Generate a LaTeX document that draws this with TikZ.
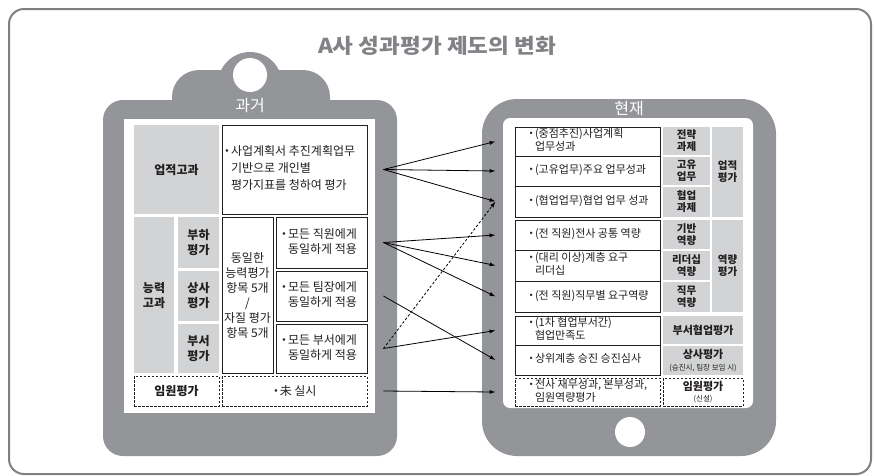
\documentclass[tikz,border=0pt]{standalone}
\usepackage{fontspec}
\setmainfont{Noto Sans CJK KR}
\newfontfamily\titlefont[FakeStretch=1.1]{Noto Sans CJK KR}
\usetikzlibrary{arrows.meta}
\definecolor{devc}{HTML}{939598}
\definecolor{cellg}{HTML}{D1D3D4}
\definecolor{titlec}{HTML}{808285}
\definecolor{framec}{HTML}{808080}
\definecolor{ink}{HTML}{231F20}
\newcommand\cellnode[7]{\node[#6, minimum width={(#4-#2)*1pt}, minimum height={(#5-#3)*1pt}] (#1) at ({(#2+#4)/2},{(#3+#5)/2}) {#7};}
\newcommand\bul{\llap{\textbf{·}\hspace{0.3pt}}}
\newcommand\lt[3]{\makebox[#1][l]{\hspace*{#2}\begin{tabular}{@{}l@{}}#3\end{tabular}}}
\begin{document}
\begin{tikzpicture}[x=1pt,y=-1pt,
  font=\fontsize{12}{15}\selectfont, text=ink,
  gcell/.style={fill=cellg, draw=none, inner sep=0pt, align=center, font=\bfseries\fontsize{12}{15}\selectfont},
  wcell/.style={fill=white, draw=ink, line width=0.9pt, inner sep=0pt, align=center},
  lcell/.style={wcell},
  dcell/.style={draw=ink, dash pattern=on 2.5pt off 1.5pt, line width=0.8pt, inner sep=0pt, align=center},
  rg/.style={gcell, font=\bfseries\fontsize{10.5}{12}\selectfont},
  rl/.style={lcell, font=\fontsize{11}{12.5}\selectfont},
  arr/.style={-{Latex[length=6pt,width=4pt]}, line width=0.8pt, black},
  darr/.style={arr, dash pattern=on 2.5pt off 2pt}]
\useasboundingbox (0,0) rectangle (874,475);
\draw[framec, line width=2pt, rounded corners=15pt] (9,9) rectangle (871,474);
\node[titlec, font=\titlefont\bfseries\fontsize{20.5}{22}\selectfont] (title) at (437,46) {A사 성과평가 제도의 변화};
% clipboard (past)
\fill[devc, rounded corners=20pt] (103,100) rectangle (397,456);
\fill[devc, rounded corners=27pt] (172,70) rectangle (330,140);
\fill[devc] (250,84) circle (32);
\fill[white] (250,75) circle (17);
\node[white, font=\fontsize{16}{16}\selectfont] (past) at (250,106) {과거};
\fill[white] (124,119) rectangle (375,413);
\cellnode{g1}{134}{125}{219}{214}{gcell}{업적고과}
\cellnode{g2}{134}{217}{174}{373}{gcell}{능력\\고과}
\cellnode{g3}{178}{217}{219}{268}{gcell}{부하\\평가}
\cellnode{g4}{178}{271}{219}{321}{gcell}{상사\\평가}
\cellnode{g5}{178}{324}{219}{373}{gcell}{부서\\평가}
\cellnode{w1}{222}{125}{367}{214}{lcell, font=\fontsize{12}{17}\selectfont}{\lt{145pt}{9pt}{\bul 사업계획서 추진계획업무\\기반으로 개인별\\평가지표를 청하여 평가}}
\cellnode{w2}{222}{217}{273}{373}{wcell}{동일한\\능력평가\\항목 5개\\/\\자질 평가\\항목 5개}
\cellnode{w3}{276}{217}{367}{268}{lcell}{\lt{91pt}{12pt}{\bul 모든 직원에게\\동일하게 적용}}
\cellnode{w4}{276}{271}{367}{321}{lcell}{\lt{91pt}{12pt}{\bul 모든 팀장에게\\동일하게 적용}}
\cellnode{w5}{276}{324}{367}{373}{lcell}{\lt{91pt}{12pt}{\bul 모든 부서에게\\동일하게 적용}}
\cellnode{d1}{134}{376}{219}{406}{dcell, font=\bfseries\fontsize{12}{15}\selectfont}{임원평가}
\cellnode{d2}{222}{376}{367}{406}{dcell}{\textbf{·}未 실시}
% tablet (present)
\fill[devc, rounded corners=35pt] (482,99) rectangle (776,456);
\fill[white, rounded corners=7pt] (503,118) rectangle (753,408);
\fill[white] (630,432) circle (15);
\node[white, font=\fontsize{16}{16}\selectfont] (now) at (629,109) {현재};
\cellnode{rA}{515}{127}{660}{156}{rl}{\lt{145pt}{20pt}{\bul (중점추진)사업계획\\업무성과}}
\cellnode{rB}{515}{156}{660}{186}{rl}{\lt{145pt}{20pt}{\bul (고유업무)주요 업무성과}}
\cellnode{rC}{515}{186}{660}{217}{rl}{\lt{145pt}{20pt}{\bul (협업업무)협업 업무 성과}}
\cellnode{rD}{515}{220}{660}{250}{rl}{\lt{145pt}{20pt}{\bul (전 직원)전사 공통 역량}}
\cellnode{rE}{515}{250}{660}{281}{rl}{\lt{145pt}{20pt}{\bul (대리 이상)계층 요구\\리더십}}
\cellnode{rF}{515}{281}{660}{312}{rl}{\lt{145pt}{20pt}{\bul (전 직원)직무별 요구역량}}
\cellnode{rG}{515}{316}{660}{345}{rl}{\lt{145pt}{20pt}{\bul (1차 협업부서간)\\협업만족도}}
\cellnode{rH}{515}{345}{660}{375}{rl}{\lt{145pt}{20pt}{\bul 상위계층 승진 승진심사}}
\cellnode{rI}{515}{378}{660}{406}{dcell, font=\fontsize{11}{12.5}\selectfont}{\lt{145pt}{20pt}{\bul 전사 재무성과, 본부성과,\\임원역량평가}}
\cellnode{cA}{663}{127}{710}{155}{rg}{전략\\과제}
\cellnode{cB}{663}{157}{710}{185}{rg}{고유\\업무}
\cellnode{cC}{663}{187}{710}{217}{rg}{협업\\과제}
\cellnode{cD}{663}{220}{710}{249}{rg}{기반\\역량}
\cellnode{cE}{663}{251}{710}{280}{rg}{리더십\\역량}
\cellnode{cF}{663}{282}{710}{312}{rg}{직무\\역량}
\cellnode{cU}{712}{127}{743}{217}{rg}{업적\\평가}
\cellnode{cV}{712}{220}{743}{312}{rg}{역량\\평가}
\cellnode{cG}{663}{316}{743}{344}{rg, font=\bfseries\fontsize{11}{12}\selectfont}{부서협업평가}
\cellnode{cH}{663}{346}{743}{375}{rg, font=\bfseries\fontsize{11}{11.5}\selectfont}{상사평가\\{\mdseries\fontsize{7.5}{8}\selectfont (승진시, 팀장 보임 시)}}
\cellnode{cI}{663}{378}{743}{406}{dcell, font=\bfseries\fontsize{11}{11.5}\selectfont}{임원평가\\{\mdseries\fontsize{7.5}{8}\selectfont (신설)}}
% connector ends
\coordinate (s1) at ([xshift=16pt]w1.east);
\coordinate (s2) at ([xshift=16pt]w3.east);
\coordinate (s3) at ([xshift=16pt]w4.east);
\coordinate (s4) at ([xshift=16pt]w5.east);
\coordinate (s5) at ([xshift=16pt]d2.east);
\coordinate (tA) at ([xshift=-19pt]rA.west);
\coordinate (tB) at ([xshift=-19pt]rB.west);
\coordinate (tC) at ([xshift=-19pt]rC.west);
\coordinate (tD) at ([xshift=-19pt]rD.west);
\coordinate (tE) at ([xshift=-19pt]rE.west);
\coordinate (tF) at ([xshift=-19pt]rF.west);
\coordinate (tG) at ([xshift=-19pt]rG.west);
\coordinate (tH) at ([xshift=-19pt]rH.west);
\coordinate (tI) at ([xshift=-19pt]rI.west);
\draw[arr] (s1) -- (tA);
\draw[arr] (s1) -- (tB);
\draw[arr] (s1) -- (tC);
\draw[arr] (s2) -- (tD);
\draw[arr] (s2) -- (tE);
\draw[arr] (s2) -- (tF);
\draw[arr] (s3) -- (tH);
\draw[arr] (s4) -- (tG);
\draw[darr] (s4) -- (tC);
\draw[arr] (s5) -- (tI);
\end{tikzpicture}
\end{document}
